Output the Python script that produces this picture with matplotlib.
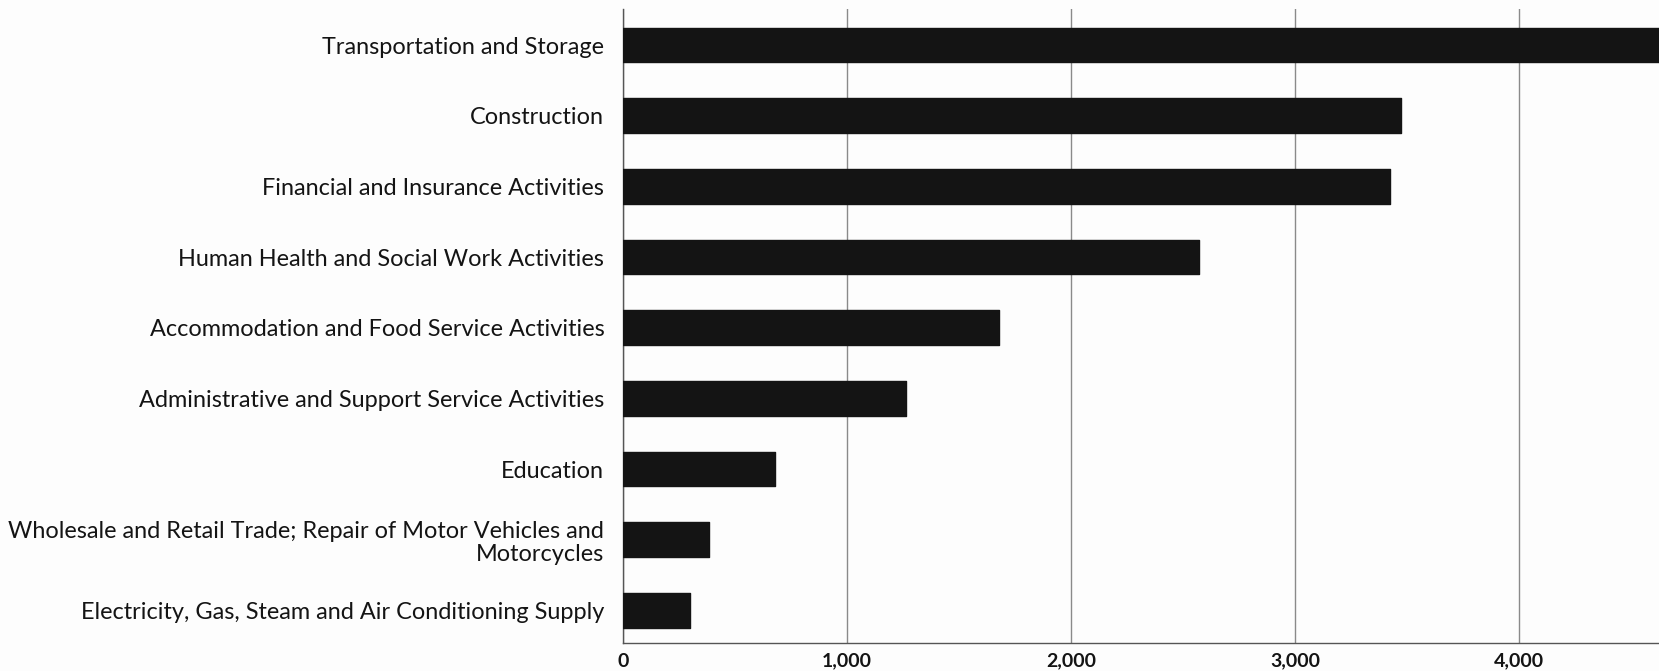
import matplotlib
matplotlib.use("Agg")
import matplotlib.pyplot as plt
from matplotlib.ticker import FuncFormatter

categories = [
    "Transportation and Storage",
    "Construction",
    "Financial and Insurance Activities",
    "Human Health and Social Work Activities",
    "Accommodation and Food Service Activities",
    "Administrative and Support Service Activities",
    "Education",
    "Wholesale and Retail Trade; Repair of Motor Vehicles and\nMotorcycles",
    "Electricity, Gas, Steam and Air Conditioning Supply",
]
values = [4800, 3473, 3424, 2571, 1678, 1263, 679, 386, 297]
xticks = [0, 1000, 2000, 3000, 4000]

plt.rcParams['font.family'] = ['Lato', 'DejaVu Sans']

W, H = 1659, 671
fig = plt.figure(figsize=(W / 100, H / 100), dpi=100, facecolor='#fdfdfd')
left = 623 / W
top = 9 / H
bottom = 643 / H
ax = fig.add_axes([left, 1 - bottom, 1 - left, bottom - top])
ax.set_facecolor('#fdfdfd')

ypos = list(range(len(categories)))
ax.barh(ypos, values, height=0.49, color='#141414', edgecolor='#141414',
        linewidth=1.0, joinstyle='round', zorder=3)

ax.set_xlim(0, 4625)
ax.set_ylim(8.46, -0.51)
ax.set_yticks(ypos)
ax.set_yticklabels(categories, fontsize=16.9, color='#141414',
                   linespacing=1.1)
ax.set_xticks(xticks)
ax.xaxis.set_major_formatter(FuncFormatter(lambda v, p: f"{int(v):,}"))
for lab in ax.get_xticklabels():
    lab.set_fontweight('bold')
    lab.set_fontsize(14)
    lab.set_color('#141414')

ax.tick_params(axis='y', length=0, pad=13.5)
ax.tick_params(axis='x', length=0, pad=7)
ax.grid(axis='x', color='#8a8a8a', linewidth=1.0, zorder=0)
for s in ['top', 'right']:
    ax.spines[s].set_visible(False)
ax.spines['left'].set_color('#555555')
ax.spines['bottom'].set_color('#555555')
ax.spines['left'].set_linewidth(1.0)
ax.spines['bottom'].set_linewidth(1.0)

fig.savefig('out.png', dpi=100, facecolor=fig.get_facecolor())
